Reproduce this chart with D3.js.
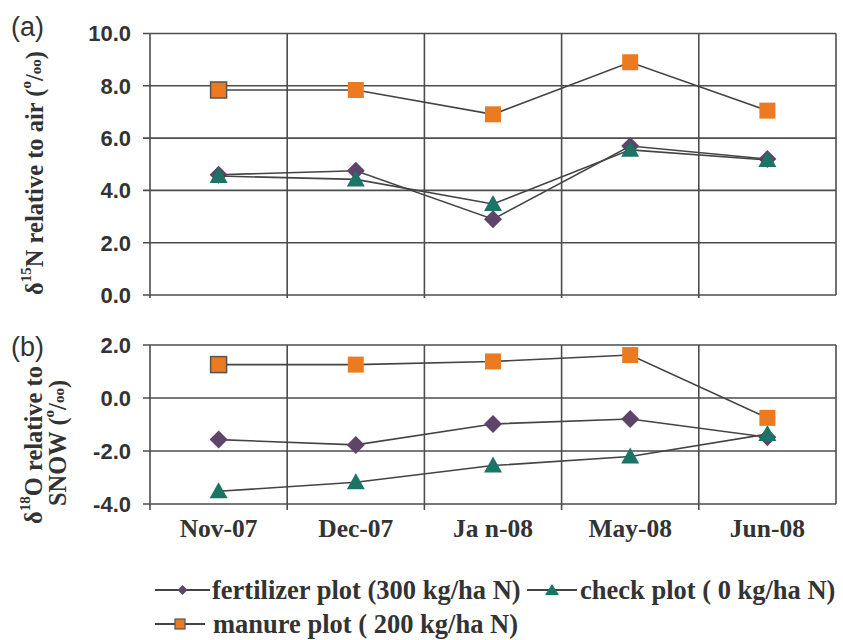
<!DOCTYPE html>
<html><head><meta charset="utf-8">
<script src="https://cdn.jsdelivr.net/npm/d3@7"></script>
<style>body{margin:0;background:#fff}</style>
</head><body>
<svg id="c" width="843" height="640"></svg>
<script>
const categories = ["Nov-07","Dec-07","Ja n-08","May-08","Jun-08"];
const seriesNames = ["fertilizer plot (300 kg/ha N)","check plot ( 0 kg/ha N)","manure plot ( 200 kg/ha N)"];
// panel (a) δ15N
const n15Fertilizer = [4.6, 4.75, 2.9, 5.7, 5.2];
const n15Check      = [4.55, 4.42, 3.48, 5.55, 5.16];
const n15Manure     = [7.84, 7.84, 6.91, 8.9, 7.05];
// panel (b) δ18O
const o18Fertilizer = [-1.57, -1.77, -0.98, -0.79, -1.48];
const o18Check      = [-3.52, -3.18, -2.55, -2.21, -1.36];
const o18Manure     = [1.26, 1.26, 1.38, 1.62, -0.75];
const ticksA = [0,2,4,6,8,10];
const ticksB = [-4,-2,0,2];

const colors = {fert:"#5E4468", check:"#1A7566", manure:"#EC7A20"};
const svg = d3.select("#c");
const x = d3.scaleBand().domain(categories).range([150,836]);
const gridColor = "#4d4d4d";

function panel(y, ticks, ext, data, showX){
  const g = svg.append("g");
  g.selectAll(".h").data(ticks).enter().append("line")
    .attr("x1",143).attr("x2",836).attr("y1",d=>y(d)).attr("y2",d=>y(d))
    .attr("stroke",gridColor).attr("stroke-width",1.6);
  const xs = categories.map(c=>x(c)).concat([x.range()[1]]);
  const y0 = y(ticks[0]), y1 = y(ticks[ticks.length-1]);
  g.selectAll(".v").data(xs).enter().append("line")
    .attr("x1",d=>d).attr("x2",d=>d).attr("y1",y1).attr("y2",(d,i)=>i<xs.length-1? y0+ext : y0)
    .attr("stroke",gridColor).attr("stroke-width",1.6);
  g.selectAll(".yt").data(ticks).enter().append("text")
    .attr("x",131).attr("y",d=>y(d)).attr("dy","0.36em")
    .attr("text-anchor","end")
    .attr("font-family","Liberation Sans, Arial, sans-serif").attr("font-weight","bold")
    .attr("font-size",22).attr("fill","#333")
    .text(d=>d.toFixed(1));
  if(showX){
    g.selectAll(".xt").data(categories).enter().append("text")
      .attr("x",d=>x(d)+x.bandwidth()/2).attr("y",537)
      .attr("text-anchor","middle")
      .attr("font-family","Liberation Serif, Times New Roman, serif").attr("font-weight","bold")
      .attr("font-size",25.5).attr("fill","#333")
      .text(d=>d);
  }
  const line = d3.line().x((d,i)=>x(categories[i])+x.bandwidth()/2).y(d=>y(d));
  const cx = i=>x(categories[i])+x.bandwidth()/2;
  g.append("path").attr("d",line(data[0])).attr("fill","none").attr("stroke","#444").attr("stroke-width",1.6);
  g.selectAll(".dm").data(data[0]).enter().append("path")
    .attr("d","M0,-9L9,0L0,9L-9,0Z").attr("transform",(d,i)=>`translate(${cx(i)},${y(d)})`)
    .attr("fill",colors.fert);
  g.append("path").attr("d",line(data[1])).attr("fill","none").attr("stroke","#444").attr("stroke-width",1.6);
  g.selectAll(".tr").data(data[1]).enter().append("path")
    .attr("d","M0,-9L9,7L-9,7Z").attr("transform",(d,i)=>`translate(${cx(i)},${y(d)})`)
    .attr("fill",colors.check);
  g.append("path").attr("d",line(data[2])).attr("fill","none").attr("stroke","#444").attr("stroke-width",1.6);
  g.selectAll(".sq").data(data[2]).enter().append("rect")
    .attr("x",(d,i)=>cx(i)-8).attr("y",d=>y(d)-8).attr("width",16).attr("height",16)
    .attr("fill",colors.manure)
    .attr("stroke",(d,i)=>i===0?"#555":"none").attr("stroke-width",1.5);
}

const yA = d3.scaleLinear().domain([0,10]).range([295,33.5]);
const yB = d3.scaleLinear().domain([-4,2]).range([504,345]);
panel(yA, ticksA, 3, [n15Fertilizer,n15Check,n15Manure], false);
panel(yB, ticksB, 6, [o18Fertilizer,o18Check,o18Manure], true);

svg.append("text").attr("x",11).attr("y",36).attr("font-family","Liberation Sans, Arial, sans-serif")
  .attr("font-size",27).attr("fill","#333").text("(a)");
svg.append("text").attr("x",11).attr("y",356).attr("font-family","Liberation Sans, Arial, sans-serif")
  .attr("font-size",27).attr("fill","#333").text("(b)");

function title(parent, cx, cy, parts){
  const t = parent.append("text")
    .attr("transform",`translate(${cx},${cy}) rotate(-90)`)
    .attr("text-anchor","middle").attr("dominant-baseline","central")
    .attr("font-family","Liberation Serif, Times New Roman, serif").attr("font-weight","bold")
    .attr("font-size",24.5).attr("fill","#333");
  parts.forEach(p=>{
    const s = t.append("tspan").text(p[0]);
    if(p[1]==="sup") s.attr("font-size",15).attr("baseline-shift","55%");
    else if(p[1]==="sub") s.attr("font-size",15).attr("baseline-shift","-15%");
  });
  return t;
}
title(svg, 34, 173, [["δ"],["15","sup"],["N relative to air ("],["o","sup"],["/"],["oo","sub"],[")"]]);
title(svg, 33, 445, [["δ"],["18","sup"],["O relative to"]]);
title(svg, 57, 443, [["SNOW ("],["o","sup"],["/"],["oo","sub"],[")"]]);

const leg = svg.append("g").attr("font-family","Liberation Serif, Times New Roman, serif")
  .attr("font-weight","bold").attr("font-size",26.5).attr("fill","#333");
function legItem(x1,x2,y,kind,label,tx){
  leg.append("line").attr("x1",x1).attr("x2",x2).attr("y1",y).attr("y2",y).attr("stroke","#444").attr("stroke-width",2);
  const mx=(x1+x2)/2;
  if(kind==="fert") leg.append("path").attr("d","M0,-5L5,0L0,5L-5,0Z").attr("transform",`translate(${mx},${y})`).attr("fill",colors.fert);
  if(kind==="check") leg.append("path").attr("d","M0,-6L7,5L-7,5Z").attr("transform",`translate(${mx},${y})`).attr("fill",colors.check);
  if(kind==="manure") leg.append("rect").attr("x",mx-5).attr("y",y-5).attr("width",10).attr("height",10).attr("fill",colors.manure).attr("stroke","#555").attr("stroke-width",1.2);
  leg.append("text").attr("x",tx).attr("y",y).attr("dy","0.33em").text(label);
}
legItem(155,210,590,"fert",seriesNames[0],212);
legItem(527,577,590,"check",seriesNames[1],580);
legItem(155,205,624,"manure",seriesNames[2],213);
</script>
</body></html>
